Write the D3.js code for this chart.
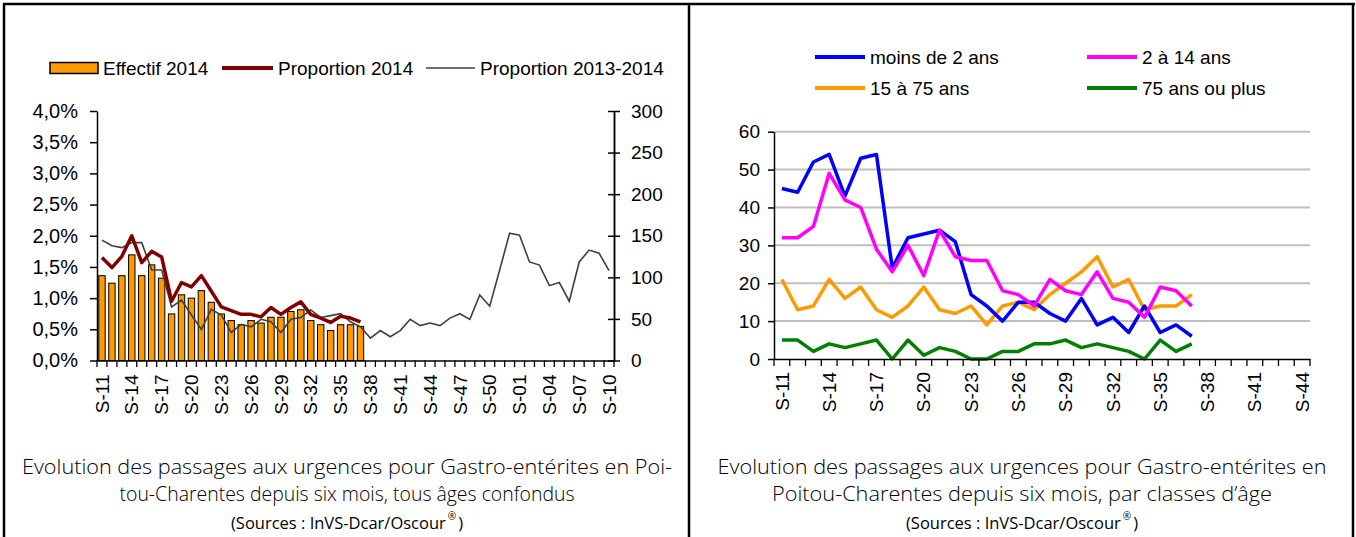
<!DOCTYPE html>
<html><head><meta charset="utf-8">
<script src="https://cdn.jsdelivr.net/npm/d3@7"></script>
<style>
body{margin:0;background:#fff;}
svg{display:block;font-family:"Liberation Sans",Arial,sans-serif;}
</style></head><body>
<svg id="c" width="1356" height="537"></svg>
<script>
// ---------- DATA ----------
const weeksLeft = ["S-11","S-12","S-13","S-14","S-15","S-16","S-17","S-18","S-19","S-20","S-21","S-22","S-23","S-24","S-25","S-26","S-27","S-28","S-29","S-30","S-31","S-32","S-33","S-34","S-35","S-36","S-37","S-38","S-39","S-40","S-41","S-42","S-43","S-44","S-45","S-46","S-47","S-48","S-49","S-50","S-51","S-52","S-01","S-02","S-03","S-04","S-05","S-06","S-07","S-08","S-09","S-10"];
const effectif2014 = [102,93,102,127,102,115,99,56,79,75,84,70,56,48,43,48,45,52,52,59,61,48,43,36,43,43,41];
const proportion2014 = [1.65,1.49,1.67,2.00,1.57,1.75,1.66,0.95,1.25,1.18,1.36,1.11,0.86,0.80,0.74,0.74,0.70,0.85,0.74,0.85,0.94,0.74,0.68,0.61,0.71,0.68,0.62];
const proportion20132014 = [1.93,1.84,1.81,1.89,1.89,1.45,1.45,0.86,0.97,0.73,0.50,0.82,0.73,0.45,0.58,0.54,0.66,0.62,0.45,0.66,0.69,0.81,0.69,0.72,0.75,0.62,0.54,0.36,0.48,0.38,0.48,0.66,0.56,0.60,0.56,0.68,0.75,0.66,1.05,0.87,1.45,2.04,2.01,1.58,1.53,1.20,1.25,0.95,1.58,1.77,1.72,1.44];
const leftPctTicks = [0,0.5,1,1.5,2,2.5,3,3.5,4];
const leftCountTicks = [0,50,100,150,200,250,300];

const weeksRight = ["S-11","S-12","S-13","S-14","S-15","S-16","S-17","S-18","S-19","S-20","S-21","S-22","S-23","S-24","S-25","S-26","S-27","S-28","S-29","S-30","S-31","S-32","S-33","S-34","S-35","S-36","S-37","S-38","S-39","S-40","S-41","S-42","S-43","S-44"];
const moins2 = [45,44,52,54,43,53,54,24,32,33,34,31,17,14,10,15,15,12,10,16,9,11,7,14,7,9,6];
const de2a14 = [32,32,35,49,42,40,29,23,30,22,34,27,26,26,18,17,14,21,18,17,23,16,15,11,19,18,14];
const de15a75 = [21,13,14,21,16,19,13,11,14,19,13,12,14,9,14,15,13,17,20,23,27,19,21,13,14,14,17];
const plus75 = [5,5,2,4,3,4,5,0,5,1,3,2,0,0,2,2,4,4,5,3,4,3,2,0,5,2,4];
const rightTicks = [0,10,20,30,40,50,60];
const ageNames = ["moins de 2 ans","2 à 14 ans","15 à 75 ans","75 ans ou plus"];
const ageColors = ["#0000FF","#FF00FF","#FF9900","#008000"];

const captionLeft = ["Evolution des passages aux urgences pour Gastro-entérites en Poi-","tou-Charentes depuis six mois, tous âges confondus"];
const captionRight = ["Evolution des passages aux urgences pour Gastro-entérites en","Poitou-Charentes depuis six mois, par classes d’âge"];
const sourceText = ["(Sources : InVS-Dcar/Oscour","®",")"];

// ---------- DRAW ----------
const svg = d3.select("#c");
const FS = 19;
const frFmt = d3.formatLocale({decimal:",",thousands:" ",grouping:[3],currency:["","€"]}).format(".1f");

// frame
const frame = svg.append("g").attr("stroke","#000").attr("stroke-width",2.5);
frame.append("line").attr("x1",3).attr("x2",1355).attr("y1",4).attr("y2",4);
frame.append("line").attr("x1",4).attr("x2",4).attr("y1",3).attr("y2",537);
frame.append("line").attr("x1",689).attr("x2",689).attr("y1",3).attr("y2",537);
frame.append("line").attr("x1",1353).attr("x2",1353).attr("y1",3).attr("y2",537);

// ===== LEFT CHART =====
const xL = d3.scaleBand().domain(weeksLeft).range([97,614]).padding(0);
const yP = d3.scaleLinear().domain([0,4]).range([360.5,111]);
const yC = d3.scaleLinear().domain([0,300]).range([360.5,111]);
const cx = w => xL(w) + xL.bandwidth()/2;

const gL = svg.append("g");
gL.selectAll("rect.bar").data(effectif2014).join("rect")
  .attr("x",(d,i)=>cx(weeksLeft[i])-3.2).attr("width",6.4)
  .attr("y",d=>yC(d)).attr("height",d=>yC(0)-yC(d))
  .attr("fill","#FF9900").attr("stroke","#000").attr("stroke-width",1);
const lineL = yScale => d3.line().x((d,i)=>cx(weeksLeft[i])).y(d=>yScale(d));
gL.append("path").datum(proportion20132014).attr("d",lineL(yP))
  .attr("fill","none").attr("stroke","#404040").attr("stroke-width",1.6);
gL.append("path").datum(proportion2014).attr("d",lineL(yP))
  .attr("fill","none").attr("stroke","#800000").attr("stroke-width",3.5).attr("stroke-linejoin","round");

const axL = gL.append("g").attr("transform","translate(97,0)")
  .call(d3.axisLeft(yP).tickValues(leftPctTicks).tickFormat(d=>frFmt(d)+"%").tickSize(7).tickSizeOuter(0).tickPadding(12));
const axR = gL.append("g").attr("transform","translate(614,0)")
  .call(d3.axisRight(yC).tickValues(leftCountTicks).tickSize(6).tickSizeOuter(0).tickPadding(11));
const axR2 = gL.append("g").attr("transform","translate(614,0)")
  .call(d3.axisLeft(yC).tickValues(leftCountTicks).tickFormat("").tickSize(6).tickSizeOuter(0));
const axB = gL.append("g").attr("transform","translate(0,360.5)")
  .call(d3.axisBottom(xL).tickValues(weeksLeft.filter((d,i)=>i%3===0)).tickSize(0).tickSizeOuter(0));
axB.selectAll("text").attr("transform","rotate(-90)").attr("x",-14).attr("y",0).attr("dy","0.35em").style("text-anchor","end");
gL.append("g").selectAll("line").data(weeksLeft.map(w=>xL(w)).concat([xL.range()[1]])).join("line")
  .attr("x1",d=>d).attr("x2",d=>d).attr("y1",360.5).attr("y2",367).attr("stroke","#000").attr("stroke-width",1.3);

[axL,axR,axR2,axB].forEach(a=>{
  a.selectAll("text").attr("font-size",FS).attr("font-family","Liberation Sans, Arial, sans-serif").attr("fill","#000");
  a.selectAll("path,line").attr("stroke","#000").attr("stroke-width",1.5);
});
axL.selectAll("text").attr("font-size",20);

// legend left
const lg = svg.append("g").attr("font-size",FS).attr("fill","#000");
lg.append("rect").attr("x",50).attr("y",62.5).attr("width",48).attr("height",11).attr("fill","#FF9900").attr("stroke","#000").attr("stroke-width",1.5);
lg.append("text").attr("x",103).attr("y",75).text("Effectif 2014");
lg.append("line").attr("x1",222).attr("x2",273).attr("y1",68).attr("y2",68).attr("stroke","#800000").attr("stroke-width",4);
lg.append("text").attr("x",278).attr("y",75).text("Proportion 2014");
lg.append("line").attr("x1",426).attr("x2",475).attr("y1",68).attr("y2",68).attr("stroke","#404040").attr("stroke-width",1.6);
lg.append("text").attr("x",480).attr("y",75).text("Proportion 2013-2014");

// ===== RIGHT CHART =====
const xR = d3.scaleBand().domain(weeksRight).range([774,1310]).padding(0);
const yA = d3.scaleLinear().domain([0,60]).range([359,131.7]);
const cxR = w => xR(w) + xR.bandwidth()/2;
const gR = svg.append("g");
gR.append("g").selectAll("line").data(rightTicks.filter(d=>d>0)).join("line")
  .attr("x1",774).attr("x2",1310).attr("y1",d=>yA(d)).attr("y2",d=>yA(d))
  .attr("stroke","#BFBFBF").attr("stroke-width",2);

const series = [moins2,de2a14,de15a75,plus75];
const lineR = d3.line().x((d,i)=>cxR(weeksRight[i])).y(d=>yA(d));
[3,2,0,1].forEach(k=>{
  gR.append("path").datum(series[k]).attr("d",lineR)
    .attr("fill","none").attr("stroke",ageColors[k]).attr("stroke-width",3.5).attr("stroke-linejoin","round");
});

const ayA = gR.append("g").attr("transform","translate(774,0)")
  .call(d3.axisLeft(yA).tickValues(rightTicks).tickSize(6).tickSizeOuter(0).tickPadding(8));
const axB2 = gR.append("g").attr("transform","translate(0,359)")
  .call(d3.axisBottom(xR).tickValues(weeksRight.filter((d,i)=>i%3===0)).tickSize(0).tickSizeOuter(0));
axB2.selectAll("text").attr("transform","rotate(-90)").attr("x",-13).attr("y",0).attr("dy","0.35em").style("text-anchor","end");
gR.append("g").selectAll("line").data(weeksRight.map(w=>xR(w)).concat([xR.range()[1]])).join("line")
  .attr("x1",d=>d).attr("x2",d=>d).attr("y1",359).attr("y2",366).attr("stroke","#000").attr("stroke-width",1.3);
[ayA,axB2].forEach(a=>{
  a.selectAll("text").attr("font-size",FS).attr("font-family","Liberation Sans, Arial, sans-serif").attr("fill","#000");
  a.selectAll("path,line").attr("stroke","#000").attr("stroke-width",1.5);
});

// legend right
const lr = svg.append("g").attr("font-size",FS).attr("fill","#000");
const legPos = [[815,57],[1087,57],[815,88],[1087,88]];
ageNames.forEach((n,k)=>{
  const [lx,ly] = legPos[k];
  lr.append("line").attr("x1",lx).attr("x2",lx+50).attr("y1",ly).attr("y2",ly).attr("stroke",ageColors[k]).attr("stroke-width",4);
  lr.append("text").attr("x",lx+55).attr("y",ly+7).text(n);
});

// ===== CAPTIONS =====
const capFont = "'Open Sans', 'Noto Sans', sans-serif";
function caption(lines, cxp, widths){
  const g = svg.append("g").attr("fill","#000");
  lines.forEach((t,i)=>{
    g.append("text").attr("x",cxp).attr("y",474+27*i).attr("text-anchor","middle")
      .attr("font-family",capFont).attr("font-weight",300).attr("font-size",19.5)
      .attr("textLength",widths[i]).attr("lengthAdjust","spacingAndGlyphs").text(t);
  });
  const m = g.append("text").attr("y",529).attr("font-family",capFont).attr("font-size",16.5).text(sourceText[0]);
  const r = g.append("text").attr("y",519.5).attr("font-family",capFont).attr("font-size",10).text(sourceText[1]);
  const p = g.append("text").attr("y",529).attr("font-family",capFont).attr("font-size",16.5).text(sourceText[2]);
  const wm = m.node().getComputedTextLength(), wr = r.node().getComputedTextLength(), wp = p.node().getComputedTextLength();
  const gap = 2, total = wm + gap + wr + gap + wp;
  const x0 = cxp - total/2;
  m.attr("x", x0);
  r.attr("x", x0 + wm + gap);
  p.attr("x", x0 + wm + gap + wr + gap);
}
caption(captionLeft, 347, [650,455]);
caption(captionRight, 1022, [609,500]);
</script>
</body></html>
